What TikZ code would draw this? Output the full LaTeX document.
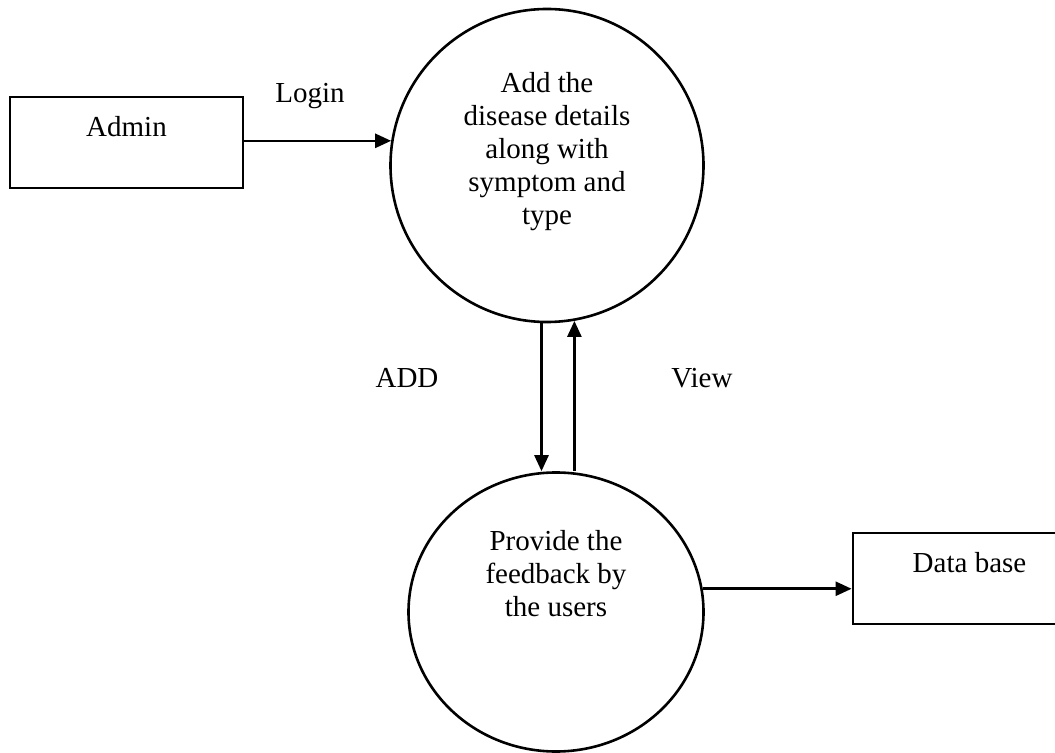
\documentclass[tikz,border=0pt]{standalone}
\usepackage{fontspec}
\setmainfont{Liberation Serif}
\usetikzlibrary{positioning,arrows.meta,shapes.geometric}
\tikzset{
    entity/.style={%
        draw, line width=1.4pt,
        minimum width=116.5pt,
        minimum height=45.5pt,
        text height=10pt, text depth=16pt
        },
    process/.style={%
        draw, line width=1.3pt, align=center
        },
    flow/.style={->, line width=1.3pt},
    >={Triangle[length=8pt,width=7pt]}
}

\begin{document}
\begin{tikzpicture}[x=0.5pt, y=-0.5pt, font=\fontsize{14.5pt}{16.5pt}\selectfont]

\useasboundingbox (0,0) rectangle (1055,753);

\node[entity] (admin) at (126.5,142.5) {Admin};

\node[process, circle, minimum size=156.5pt, text depth=16.8pt] (addinfo) at (547,165.5) {Add the\\disease details\\along with\\symptom and\\type};

\node[process, ellipse, minimum width=147.5pt, minimum height=139.5pt, text depth=38.3pt] (feedback) at (556,612) {Provide the\\feedback by\\the users};

\node[entity] (db) at (969.5,578.5) {Data base};

\node (login) at (310,96) {Login};

\node (add) at (407,378) {ADD};

\node (view) at (702,378) {View};

\draw[flow] (admin.east |- addinfo.171) -- (addinfo.171);

\draw[flow] (addinfo.-92) -- (addinfo.-92 |- feedback.north);

\draw[flow] (feedback.north -| addinfo.-80.5) -- (addinfo.-80.5);

\draw[flow] (feedback.9) -- (feedback.9 -| db.west);

\end{tikzpicture}
\end{document}
